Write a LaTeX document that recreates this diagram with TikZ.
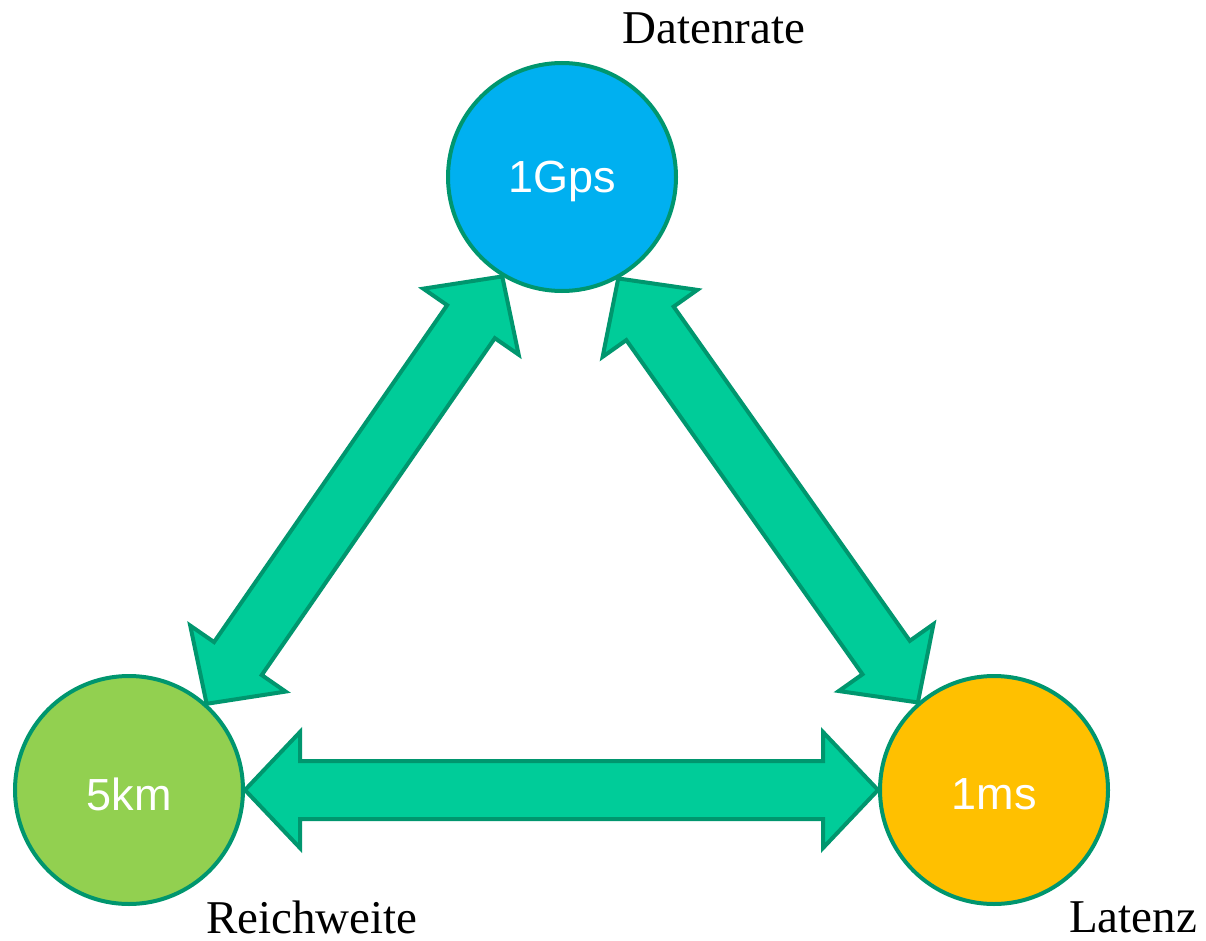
\documentclass[tikz,border=0pt]{standalone}
\usepackage{fontspec}
\setmainfont{Liberation Serif}
\newfontfamily\labelsans{Liberation Sans}
\usetikzlibrary{calc}

\definecolor{ringgreen}{RGB}{0,150,110}
\definecolor{flowfill}{RGB}{0,204,153}
\definecolor{rateblue}{RGB}{0,176,240}
\definecolor{rangegreen}{RGB}{146,208,80}
\definecolor{latamber}{RGB}{255,192,0}

% value text, set a little below the circle centre
\newcommand\valtext[1]{\raisebox{-4pt}[\height][\depth]{#1}}

\tikzset{
  metric/.style={circle, draw=ringgreen, line width=4pt, minimum size=228pt,
    inner sep=0pt, text=white, font=\labelsans\fontsize{45}{52}\selectfont},
  caption/.style={font=\fontsize{47}{56}\selectfont, inner sep=0pt},
  flow/.style={draw=ringgreen, fill=flowfill, line width=4pt, line join=miter}
}

% double-headed block arrow between two points
\newcommand\blockarrow[2]{%
  \coordinate (ba1) at ($(#1)!55pt!(#2)$);
  \coordinate (ba2) at ($(#2)!55pt!(#1)$);
  \draw[flow] (#1)
    -- ($(ba1)!58pt!90:(#2)$) -- ($(ba1)!29pt!90:(#2)$)
    -- ($(ba2)!29pt!-90:(#1)$) -- ($(ba2)!58pt!-90:(#1)$)
    -- (#2)
    -- ($(ba2)!58pt!90:(#1)$) -- ($(ba2)!29pt!90:(#1)$)
    -- ($(ba1)!29pt!-90:(#2)$) -- ($(ba1)!58pt!-90:(#2)$)
    -- cycle;}

\begin{document}
\begin{tikzpicture}[x=1pt,y=-1pt]
  \useasboundingbox (0,0) rectangle (1206,941);

  \node[metric, fill=rateblue]   (rate)  at (562,177) {\valtext{1Gps}};
  \node[metric, fill=rangegreen] (range) at (129,790) {\valtext{5km}};
  \node[metric, fill=latamber]   (lat)   at (994,790) {\valtext{1ms}};

  \node[caption] (ratecap)  at (714,28)  {Datenrate};
  \node[caption] (rangecap) at (312,917) {Reichweite};
  \node[caption] (latcap)   at (1133,917) {Latenz};

  \blockarrow{rate.239}{range.48}
  \blockarrow{rate.299}{lat.131}
  \blockarrow{range.0}{lat.180}
\end{tikzpicture}
\end{document}
